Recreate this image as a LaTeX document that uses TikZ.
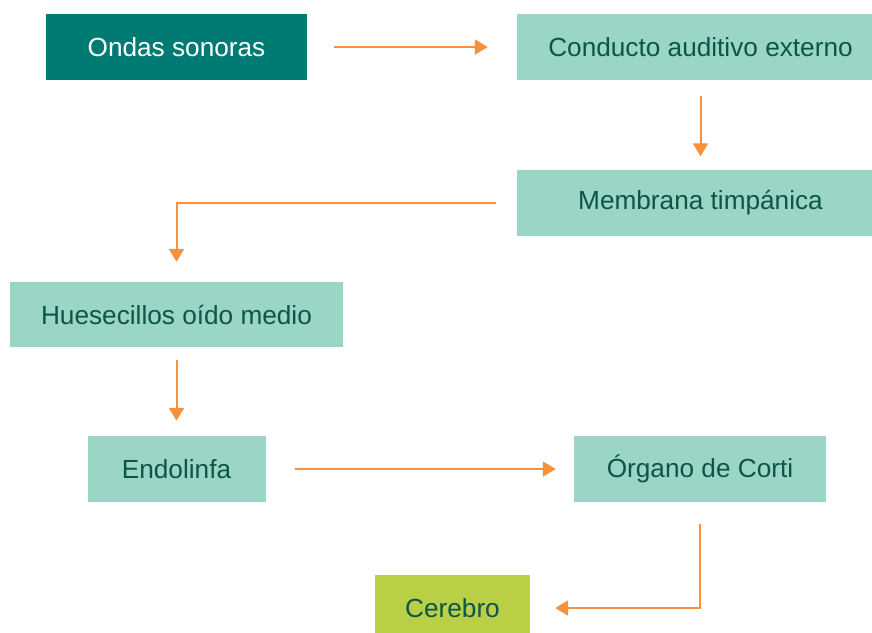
\documentclass[tikz,border=0pt]{standalone}
\usepackage{fontspec}
\setmainfont{Liberation Sans}
\usetikzlibrary{arrows.meta}
\definecolor{darkteal}{HTML}{007B73}
\definecolor{lightteal}{HTML}{9AD5C6}
\definecolor{textteal}{HTML}{0D5449}
\definecolor{limegreen}{HTML}{B9CF46}
\definecolor{arroworange}{HTML}{F7913D}
\tikzset{
  box/.style={rectangle, inner sep=0pt, minimum height=66pt, fill=lightteal,
    text=textteal, font=\fontsize{26.2}{31}\selectfont},
  startbox/.style={box, fill=darkteal, text=white},
  endbox/.style={box, fill=limegreen},
  flow/.style={draw=arroworange, line width=2pt, -{Triangle[length=13pt,width=15pt]}}
}
\begin{document}
\begin{tikzpicture}[x=1pt,y=-1pt]
\useasboundingbox (0,0) rectangle (872,632);
\node[startbox, minimum width=261pt] (ondas) at (176.5,47) {Ondas sonoras};
\node[box, minimum width=367pt] (conducto) at (700.5,47) {Conducto auditivo externo};
\node[box, minimum width=367pt] (membrana) at (700.5,202.5) {Membrana timpánica};
\node[box, minimum width=333pt, minimum height=65pt] (hues) at (176.5,314.5) {Huesecillos oído medio};
\node[box, minimum width=178pt] (endo) at (176.5,469) {Endolinfa};
\node[box, minimum width=252pt] (organo) at (700,469) {Órgano de Corti};
\node[endbox, minimum width=155pt] (cerebro) at (452.5,608) {Cerebro};
\draw[flow, shorten <=27pt, shorten >=29pt] (ondas.east) -- (conducto.west);
\draw[flow, shorten <=16pt, shorten >=13pt] (conducto.south) -- (membrana.north);
\draw[flow, shorten <=21pt, shorten >=20pt] (membrana.west) -| (hues.north);
\draw[flow, shorten <=13pt, shorten >=15pt] (hues.south) -- (endo.north);
\draw[flow, shorten <=29pt, shorten >=18pt] (endo.east) -- (organo.west);
\draw[flow, shorten <=22pt, shorten >=25pt] (organo.south) |- (cerebro.east);
\end{tikzpicture}
\end{document}
